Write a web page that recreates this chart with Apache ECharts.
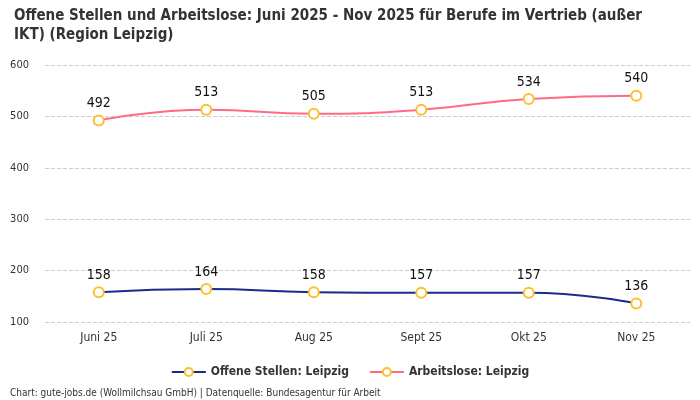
<!DOCTYPE html>
<html><head><meta charset="utf-8">
<script src="https://cdn.jsdelivr.net/npm/echarts@6/dist/echarts.min.js"></script>
<style>html,body{margin:0;padding:0;background:#fff}#c{width:700px;height:400px}</style>
</head><body><div id="c"></div>
<script>
var categories = ["Juni 25","Juli 25","Aug 25","Sept 25","Okt 25","Nov 25"];
var offeneStellen = [158,164,158,157,157,136];
var arbeitslose = [492,513,505,513,534,540];
var FONT = "'Liberation Sans Narrow','DejaVu Sans Condensed',sans-serif";
var chart = echarts.init(document.getElementById('c'));
function series(name, data, color) {
  return {
    name: name, type: 'line', data: data, smooth: true,
    lineStyle: {color: color, width: 2},
    itemStyle: {color: '#fff', borderColor: '#fbc02d', borderWidth: 2},
    symbol: 'circle', symbolSize: 10,
    label: {show: true, position: 'top', distance: 4, fontSize: 14, color: '#111', fontFamily: FONT},
    emphasis: {disabled: true}
  };
}
chart.setOption({
  animation: false,
  textStyle: {fontFamily: FONT},
  title: {
    text: 'Offene Stellen und Arbeitslose: Juni 2025 - Nov 2025 für Berufe im Vertrieb (außer\nIKT) (Region Leipzig)',
    left: 9, top: 2,
    textStyle: {fontSize: 15, fontWeight: 'bold', color: '#333', lineHeight: 19, fontFamily: FONT}
  },
  legend: {
    bottom: 17, left: 'center', itemWidth: 34, itemHeight: 10, itemGap: 20,
    textStyle: {fontSize: 12, fontWeight: 'bold', color: '#333', fontFamily: FONT},
    data: ['Offene Stellen: Leipzig', 'Arbeitslose: Leipzig']
  },
  graphic: [{type: 'text', left: 10, top: 388, style: {text: 'Chart: gute-jobs.de (Wollmilchsau GmbH) | Datenquelle: Bundesagentur für Arbeit', fontSize: 10, fill: '#333', fontFamily: FONT}}],
  grid: {left: 45, right: 10, top: 65, bottom: 78},
  xAxis: {
    type: 'category', data: categories, boundaryGap: true,
    axisLine: {show: false}, axisTick: {show: false},
    axisLabel: {fontSize: 12, color: '#333', margin: 10}
  },
  yAxis: {
    type: 'value', min: 100, max: 600, interval: 100,
    axisLine: {show: false}, axisTick: {show: false},
    axisLabel: {fontSize: 11, color: '#333', margin: 16},
    splitLine: {lineStyle: {type: 'dashed', color: '#ccc'}}
  },
  series: [
    series('Offene Stellen: Leipzig', offeneStellen, '#1a2b8c'),
    series('Arbeitslose: Leipzig', arbeitslose, '#ff6b86')
  ]
});
</script></body></html>
